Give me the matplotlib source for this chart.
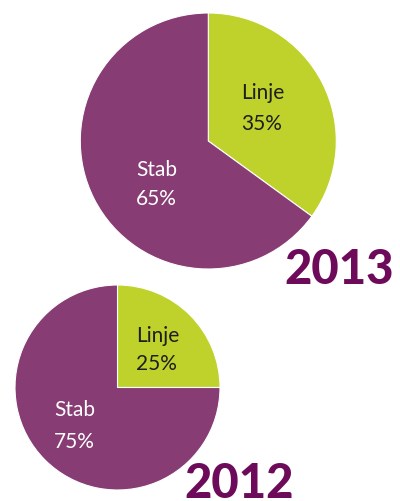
import matplotlib
matplotlib.use("Agg")
import matplotlib.pyplot as plt

# ---- data ----
categories = ["Linje", "Stab"]
values_2013 = [35, 65]
values_2012 = [25, 75]
years = ["2013", "2012"]

# ---- style ----
PURPLE = "#873c74"
GREEN = "#bfd22c"
YEAR_COLOR = "#6e0a5a"
W, H = 400, 501

plt.rcParams['font.family'] = ['Lato', 'DejaVu Sans']

fig = plt.figure(figsize=(W / 100, H / 100), dpi=100)
ax = fig.add_axes([0, 0, 1, 1])


def Y(y):
    return H - y


def draw_pie(vals, center, radius):
    ax.pie(vals, colors=[GREEN, PURPLE], startangle=90, counterclock=False,
           center=(center[0], Y(center[1])), radius=radius,
           wedgeprops=dict(edgecolor="white", linewidth=0.8))


draw_pie(values_2013, (208.3, 141), 128)
draw_pie(values_2012, (117.5, 387.5), 102.5)


def label(x, y_name, y_pct, name, val, color):
    ax.text(x, Y(y_name), name, fontsize=15, color=color,
            ha="left", va="baseline")
    ax.text(x, Y(y_pct), f"{val}%", fontsize=15, color=color,
            ha="left", va="baseline")


# 2013 labels
label(241.5, 98.5, 130, categories[0], values_2013[0], "#1e1e1e")
label(136, 176, 205, categories[1], values_2013[1], "white")
# 2012 labels
label(136, 341.5, 370.5, categories[0], values_2012[0], "#1e1e1e")
label(54, 416, 448, categories[1], values_2012[1], "white")

ax.text(284, Y(284), years[0], fontsize=34, fontweight="black",
        color=YEAR_COLOR, ha="left", va="baseline")
ax.text(184, Y(498), years[1], fontsize=34, fontweight="black",
        color=YEAR_COLOR, ha="left", va="baseline")

ax.set_xlim(0, W)
ax.set_ylim(0, H)
ax.set_aspect("equal")
ax.axis("off")

fig.savefig("out.png", dpi=100, facecolor="white")
